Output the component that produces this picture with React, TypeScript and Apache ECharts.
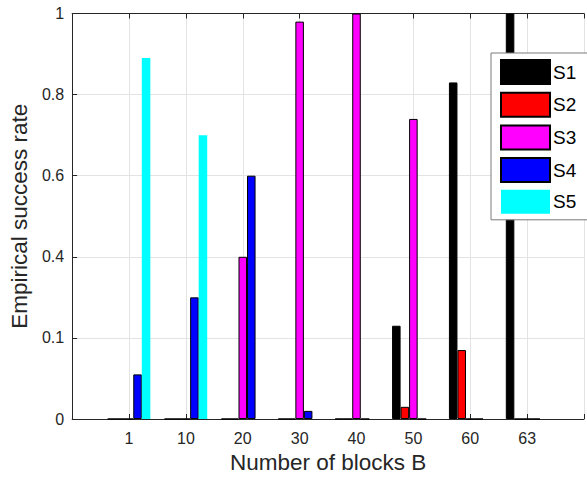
import React, { useEffect, useRef } from "react";
import * as echarts from "echarts";

const categories = ["1", "10", "20", "30", "40", "50", "60", "63"];
const seriesNames = ["S1", "S2", "S3", "S4", "S5"];
const s1 = [0, 0, 0, 0, 0, 0.23, 0.83, 1.0];
const s2 = [0, 0, 0, 0, 0, 0.03, 0.17, 0];
const s3 = [0, 0, 0.4, 0.98, 1.0, 0.74, 0, 0];
const s4 = [0.11, 0.3, 0.6, 0.02, 0, 0, 0, 0];
const s5 = [0.89, 0.7, 0, 0, 0, 0, 0, 0];
const yTickLabels = ["0", "0.1", "0.4", "0.6", "0.8", "1"];
const colors = ["#000000", "#ff0000", "#ff00ff", "#0000ff", "#00ffff"];

const FONT = "'Liberation Sans', Arial, Helvetica, sans-serif";
const TEXT = "#262626";

export default function App() {
  const ref = useRef<HTMLDivElement>(null);
  useEffect(() => {
    if (!ref.current) return;
    const chart = echarts.init(ref.current, undefined, { renderer: "svg" });
    const cats = ["", ...categories, ""];
    const pad = (a: number[]) => [null, ...a, null];
    const all = [s1, s2, s3, s4, s5];
    chart.setOption({
      animation: false,
      textStyle: { fontFamily: FONT },
      grid: { left: 66, right: 0, top: 13.5, bottom: 58, containLabel: false },
      legend: {
        orient: "vertical",
        left: 491,
        top: 53,
        itemWidth: 49,
        itemHeight: 24,
        itemGap: 6.7,
        padding: [6, 60, 6, 9],
        backgroundColor: "#ffffff",
        borderColor: "#7a7a7a",
        borderWidth: 1,
        borderRadius: 0,
        icon: "rect",
        textStyle: { fontSize: 19, color: "#000", fontFamily: FONT, padding: [0, 0, 0, -2] },
        data: seriesNames,
      },
      xAxis: [
        {
          type: "category",
          data: cats,
          boundaryGap: false,
          position: "bottom",
          name: "Number of blocks B",
          nameLocation: "middle",
          nameGap: 32,
          nameTextStyle: { fontSize: 22.5, color: TEXT, fontFamily: FONT },
          axisLine: { show: true, lineStyle: { color: TEXT, width: 1 } },
          axisTick: { show: true, inside: true, length: 5, interval: 0, lineStyle: { color: TEXT } },
          axisLabel: { interval: 0, fontSize: 16, color: TEXT, margin: 11, fontFamily: FONT },
          splitLine: { show: true, interval: 0, lineStyle: { color: "#e3e3e3", width: 1 } },
        },
        {
          type: "category",
          data: cats,
          boundaryGap: false,
          position: "top",
          axisLine: { show: true, lineStyle: { color: TEXT, width: 1 } },
          axisTick: { show: true, inside: true, length: 5, interval: 0, lineStyle: { color: TEXT } },
          axisLabel: { show: false },
          splitLine: { show: false },
        },
      ],
      yAxis: {
        type: "value",
        min: 0,
        max: 1,
        interval: 0.2,
        name: "Empirical success rate",
        nameLocation: "middle",
        nameGap: 28,
        nameTextStyle: { fontSize: 22.5, color: TEXT, fontFamily: FONT },
        axisLine: { show: true, lineStyle: { color: TEXT, width: 1 } },
        axisTick: { show: true, inside: true, length: 5, lineStyle: { color: TEXT } },
        axisLabel: {
          fontSize: 16,
          color: TEXT,
          margin: 8,
          fontFamily: FONT,
          formatter: (_v: number, i: number) => yTickLabels[i] ?? "",
        },
        splitLine: { show: true, lineStyle: { color: "#e3e3e3", width: 1 } },
      },
      series: all.map((d, i) => ({
        name: seriesNames[i],
        type: "bar",
        xAxisIndex: 0,
        data: pad(d),
        barGap: "0%",
        barCategoryGap: "25%",
        itemStyle: {
          color: colors[i],
          borderColor: "#000",
          borderWidth: i === 4 ? 0 : 1,
        },
      })),
    });
    return () => chart.dispose();
  }, []);
  return (
    <div
      ref={ref}
      style={{ position: "absolute", left: 0, top: 0, width: 587, height: 479 }}
    />
  );
}
